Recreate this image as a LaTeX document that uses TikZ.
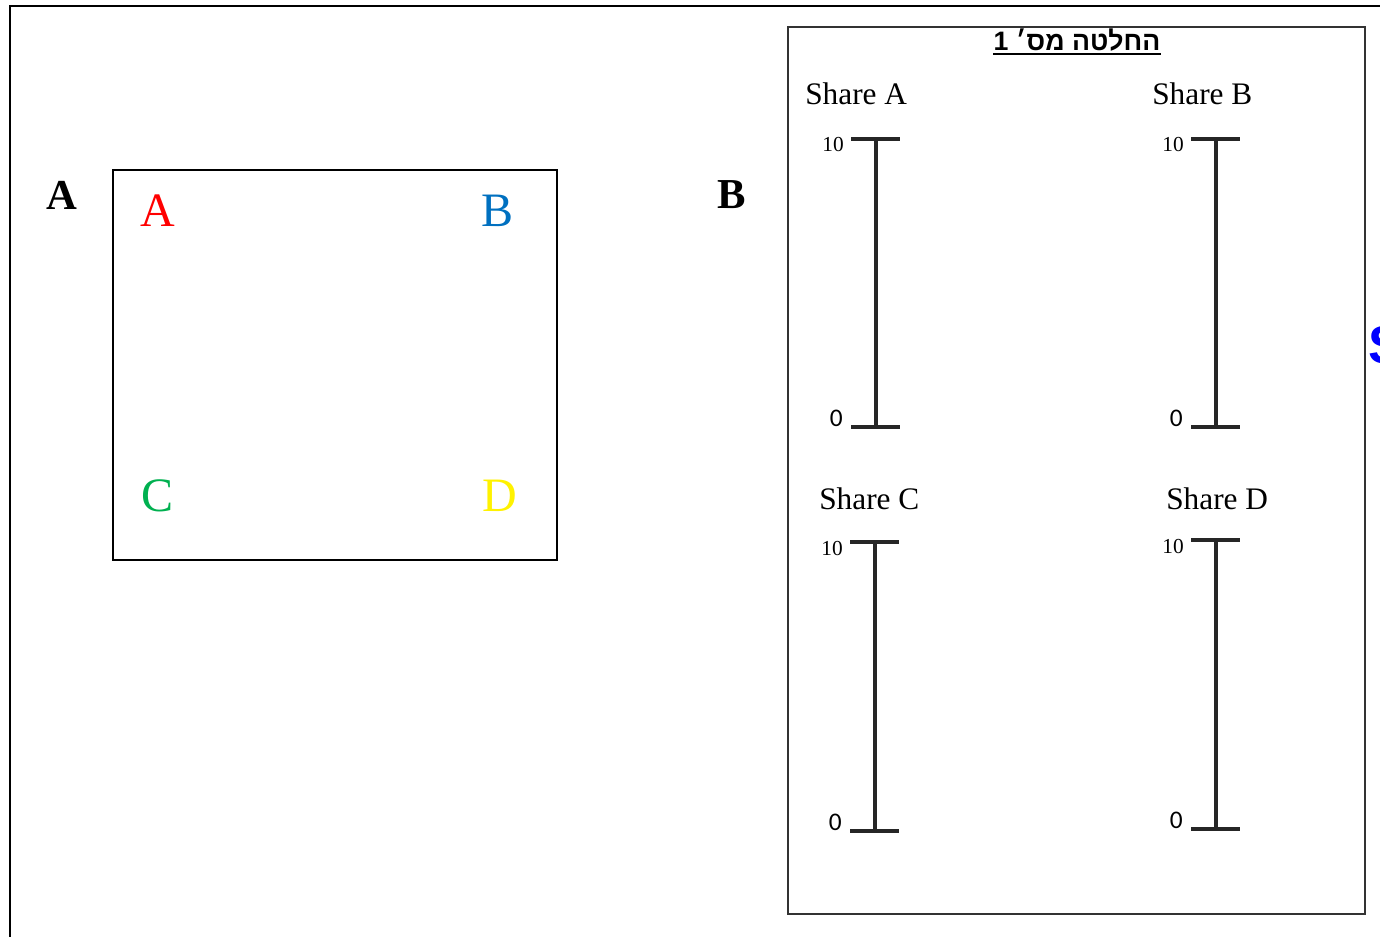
\documentclass[tikz,border=0pt]{standalone}
\usepackage{fontspec}
\setmainfont{Liberation Serif}
\newfontfamily\hebfont[Script=Hebrew]{Liberation Sans}
\newfontfamily\calfont{Carlito}
\newfontfamily\arialfont{Liberation Sans}
\TeXXeTstate=1
\usepackage[svgnames]{xcolor}
\usepackage{tikz}
\definecolor{shareblue}{RGB}{0,112,192}
\definecolor{sharegreen}{RGB}{0,176,80}

\begin{document}
\begin{tikzpicture}[x=0.75pt,y=-0.75pt,
  frame/.style={draw,line width=1.5pt},
  bar/.style={line width=3pt,draw=black!85},
  letter/.style={font=\fontsize{36}{36}\selectfont,inner sep=0pt},
  panel/.style={font=\bfseries\fontsize{32}{32}\selectfont,inner sep=0pt},
  share/.style={font=\fontsize{23.5}{23.5}\selectfont,anchor=west,inner sep=0pt},
  scalenum/.style={inner sep=0pt}]
\useasboundingbox (0,0) rectangle (1380,936);
\draw[line width=1.5pt] (10,945) -- (10,6) -- (1390,6);
\node[panel] (labA) at (62,195) {A};
\draw[frame] (113,170) rectangle (557,560);
\node[letter,red] (ltA) at (158,211) {A};
\node[letter,shareblue] (ltB) at (498,211) {B};
\node[letter,sharegreen] (ltC) at (158,496) {C};
\node[letter,yellow] (ltD) at (500,496) {D};
\node[panel] (labB) at (732,195) {B};
\draw[frame,draw=black!80] (788,27) rectangle (1365,914);
\node[inner sep=0pt,font=\hebfont\bfseries\fontsize{20}{20}\selectfont] (title) at (1077,40) {\beginR החלטה מס׳ 1\endR};
\draw[line width=1pt] ([yshift=-2pt]title.south west) -- ([yshift=-2pt]title.south east);
\foreach \s/\x/\t/\b/\lx/\ly in {A/876/139/427/805/94, B/1216/139/427/1152/94,
  C/875/542/831/819/499, D/1216/540/829/1166/499}{
  \node[share] (share\s) at (\lx,\ly) {Share \s};
  \draw[bar] (\x-25,\t) -- (\x+24,\t) (\x,\t) -- (\x,\b) (\x-25,\b) -- (\x+24,\b);
  \node[scalenum,anchor=east,font=\fontsize{16}{16}\selectfont] (top\s) at (\x-32,\t+6) {10};
  \node[scalenum,anchor=east,font=\calfont\fontsize{19}{19}\selectfont] (bot\s) at (\x-33,\b-9) {0};
}
\node[anchor=west,inner sep=0pt,blue,font=\arialfont\bfseries\fontsize{40}{40}\selectfont] (cutS) at (1368,345) {S};
\end{tikzpicture}
\end{document}
